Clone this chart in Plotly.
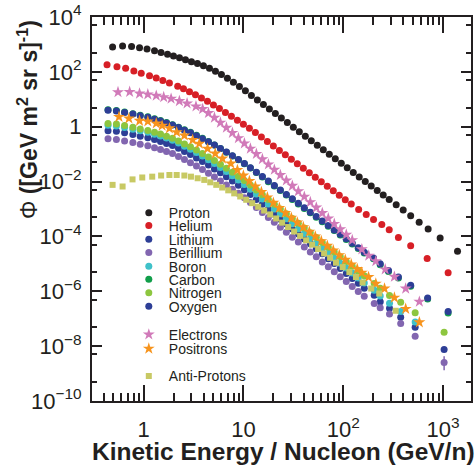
import plotly.graph_objects as go

# ---------------- data ----------------
X_P = [0.490, 0.617, 0.759, 0.912, 1.084, 1.288, 1.496, 1.738, 1.995, 2.291, 2.630, 3.020, 3.467, 3.981,
       4.571, 5.248, 6.026, 6.918, 7.943, 9.120, 10.47, 12.02, 13.80, 15.85, 18.20, 20.89, 23.99, 27.54,
       31.62, 36.31, 41.69, 47.86, 54.95, 63.10, 72.44, 83.18, 95.50, 109.6, 125.9, 144.5, 166.0, 190.5,
       218.8, 251.2, 288.4, 338.8, 398.1, 473.2, 575.4, 707.9, 933.3, 1393]
Y_P = [813, 871, 832, 759, 676, 589, 513, 437, 380, 324, 275, 234, 200, 166, 135, 105, 79.4, 58.9, 41.7,
       29.5, 20.4, 13.8, 9.44, 6.46, 4.42, 3.02, 2.07, 1.41, 0.966, 0.661, 0.452, 0.309, 0.211, 0.145,
       0.0989, 0.0676, 0.0462, 0.0316, 0.0216, 0.0148, 0.0101, 6.92e-3, 4.73e-3, 3.24e-3, 2.21e-3,
       1.42e-3, 9.12e-4, 5.68e-4, 3.31e-4, 1.87e-4, 8.76e-5, 2.91e-5]

X_HE = [0.431, 0.542, 0.662, 0.800, 0.948, 1.148, 1.340, 1.560, 1.816, 2.198, 2.512, 2.884, 3.311, 3.802,
        4.365, 5.012, 5.754, 6.607, 7.586, 8.710, 10.0, 11.48, 13.18, 15.14, 17.38, 19.95, 22.91, 26.30,
        30.20, 34.67, 39.81, 45.71, 52.48, 60.26, 69.18, 79.43, 91.20, 104.7, 120.2, 142.6, 169.8, 200.9,
        243.2, 288.4, 356.5, 473.2, 691.8, 1122]
Y_HE = [180, 155, 135, 107, 89.1, 72.4, 59.6, 48.4, 39.4, 29.9, 24.0, 18.8, 14.6, 11.2, 8.41, 6.24, 4.57,
        3.31, 2.40, 1.72, 1.23, 0.871, 0.610, 0.422, 0.292, 0.200, 0.137, 0.0942, 0.0646, 0.0444, 0.0305,
        0.0209, 0.0144, 9.86e-3, 6.76e-3, 4.65e-3, 3.19e-3, 2.19e-3, 1.51e-3, 9.55e-4, 6.31e-4, 4.17e-4,
        2.75e-4, 1.74e-4, 9.12e-5, 4.57e-5, 1.58e-5, 4.79e-6]

X_NUC = [0.441, 0.535, 0.646, 0.782, 0.927, 1.104, 1.288, 1.479, 1.698, 1.950, 2.239, 2.570, 2.951, 3.388,
         3.890, 4.467, 5.129, 5.888, 6.761, 7.762, 8.913, 10.23, 11.75, 13.49, 15.49, 17.78, 20.42, 23.44,
         26.92, 30.90, 35.48, 40.74, 46.77, 53.70, 61.66, 70.79, 81.28, 93.33, 107.2, 123.0, 141.3, 162.2,
         204.2, 234.4, 290.4, 375.8, 524.8, 1023]
X_CO = [0.441, 0.535, 0.646, 0.782, 0.927, 1.104, 1.288, 1.479, 1.698, 1.950, 2.239, 2.570, 2.951, 3.388,
        3.890, 4.467, 5.129, 5.888, 6.761, 7.762, 8.913, 10.23, 11.75, 13.49, 15.49, 17.78, 20.42, 23.44,
        26.92, 30.90, 35.48, 40.74, 46.77, 53.70, 61.66, 70.79, 81.28, 93.33, 107.2, 123.0, 141.3, 162.2,
        200.9, 234.4, 283.8, 356.5, 473.2, 699.8, 1122]

Y_LI = [0.718, 0.679, 0.597, 0.520, 0.453, 0.399, 0.340, 0.292, 0.246, 0.207, 0.163, 0.125, 0.0966,
        0.0728, 0.0542, 0.0399, 0.0290, 0.0209, 0.0149, 0.0104, 7.35e-3, 5.05e-3, 3.39e-3, 2.24e-3,
        1.48e-3, 9.77e-4, 6.46e-4, 4.27e-4, 2.82e-4, 1.86e-4, 1.23e-4, 8.13e-5, 5.37e-5, 3.55e-5,
        2.34e-5, 1.55e-5, 1.02e-5, 6.76e-6, 4.47e-6, 2.95e-6, 1.95e-6, 1.29e-6,
        7.24e-7, 4.17e-7, 2.40e-7, 1.12e-7, 4.90e-8, 7.59e-9]
Y_BE = [0.363, 0.344, 0.302, 0.263, 0.229, 0.202, 0.172, 0.148, 0.124, 0.105, 0.0825, 0.0633, 0.0489,
        0.0368, 0.0274, 0.0202, 0.0147, 0.0106, 7.54e-3, 5.26e-3, 3.72e-3, 2.56e-3, 1.72e-3, 1.13e-3,
        7.49e-4, 4.94e-4, 3.27e-4, 2.16e-4, 1.43e-4, 9.41e-5, 6.22e-5, 4.11e-5, 2.72e-5, 1.80e-5,
        1.18e-5, 7.84e-6, 5.16e-6, 3.42e-6, 2.26e-6, 1.49e-6, 9.87e-7, 6.53e-7,
        3.55e-7, 2.51e-7, 1.48e-7, 6.76e-8, 2.29e-8, 2.51e-9]
# only the last beryllium point shows a visible error bar
Y_BE_ERR_UP = [0] * 47 + [1.8e-9]
Y_BE_ERR_DOWN = [0] * 47 + [1.2e-9]
Y_B = [1.12, 1.06, 0.933, 0.813, 0.708, 0.624, 0.531, 0.456, 0.384, 0.324, 0.255, 0.195, 0.151, 0.114,
       0.0847, 0.0624, 0.0453, 0.0327, 0.0233, 0.0163, 0.0115, 7.89e-3, 5.30e-3, 3.50e-3, 2.31e-3,
       1.53e-3, 1.01e-3, 6.67e-4, 4.41e-4, 2.91e-4, 1.92e-4, 1.27e-4, 8.39e-5, 5.55e-5, 3.66e-5,
       2.42e-5, 1.59e-5, 1.06e-5, 6.99e-6, 4.61e-6, 3.05e-6, 2.02e-6,
       1.10e-6, 6.76e-7, 3.63e-7, 1.82e-7, 7.59e-8]
Y_C = [4.14, 3.92, 3.44, 3.00, 2.61, 2.30, 1.96, 1.68, 1.41, 1.19, 0.966, 0.775, 0.622, 0.486, 0.376,
       0.287, 0.216, 0.160, 0.118, 0.0858, 0.0625, 0.0445, 0.0310, 0.0212, 0.0146, 9.95e-3, 6.86e-3,
       4.71e-3, 3.24e-3, 2.23e-3, 1.53e-3, 1.05e-3, 7.26e-4, 4.99e-4, 3.44e-4, 2.37e-4, 1.63e-4,
       1.12e-4, 7.7e-5, 5.3e-5, 3.65e-5, 2.51e-5,
       1.52e-5, 9.3e-6, 5.3e-6, 3.05e-6, 1.52e-6, 5.2e-7, 1.62e-7]
Y_N = [1.32, 1.25, 1.10, 0.955, 0.832, 0.733, 0.624, 0.537, 0.452, 0.380, 0.302, 0.236, 0.185, 0.141,
       0.106, 0.0794, 0.0586, 0.0428, 0.0308, 0.0220, 0.0157, 0.0109, 7.43e-3, 4.98e-3, 3.33e-3,
       2.23e-3, 1.50e-3, 1.00e-3, 6.71e-4, 4.50e-4, 3.01e-4, 2.02e-4, 1.35e-4, 9.06e-5, 6.07e-5,
       4.06e-5, 2.72e-5, 1.82e-5, 1.22e-5, 8.18e-6, 5.48e-6, 3.67e-6,
       1.91e-6, 1.29e-6, 7.08e-7, 3.98e-7, 1.66e-7, 3.24e-8]
Y_O = [3.98, 3.77, 3.31, 2.88, 2.51, 2.21, 1.88, 1.62, 1.36, 1.15, 0.933, 0.750, 0.603, 0.473, 0.367,
       0.282, 0.214, 0.160, 0.119, 0.0871, 0.0638, 0.0457, 0.0320, 0.0220, 0.0152, 0.0104, 7.19e-3,
       4.95e-3, 3.41e-3, 2.35e-3, 1.62e-3, 1.11e-3, 7.67e-4, 5.28e-4, 3.64e-4, 2.51e-4, 1.73e-4,
       1.19e-4, 8.18e-5, 5.64e-5, 3.88e-5, 2.67e-5,
       1.62e-5, 1.0e-5, 5.75e-6, 3.31e-6, 1.66e-6, 5.75e-7, 1.82e-7]

X_E = [0.555, 0.726, 0.912, 1.104, 1.340, 1.592, 1.888, 2.286, 2.729, 3.350, 3.908, 4.467, 5.129, 5.888,
       6.761, 7.762, 8.913, 10.23, 11.75, 13.49, 15.49, 17.78, 20.42, 23.44, 26.92, 30.90, 35.48, 40.74,
       46.77, 53.70, 61.66, 70.79, 81.28, 93.33, 107.2, 123.0, 153.5, 179.9, 211.8, 263.0, 325.1, 421.7,
       578.1]
Y_E = [18.2, 18.6, 16.2, 15.1, 13.5, 12.0, 10.5, 8.61, 7.08, 5.50, 4.42, 3.16, 2.14, 1.41, 0.923, 0.596,
       0.385, 0.247, 0.159, 0.102, 0.0656, 0.0422, 0.0271, 0.0174, 0.0110, 7.0e-3, 4.44e-3, 2.81e-3,
       1.78e-3, 1.13e-3, 7.16e-4, 4.54e-4, 2.88e-4, 1.82e-4, 1.16e-4, 7.33e-5, 3.39e-5, 2.0e-5, 1.26e-5,
       6.31e-6, 3.39e-6, 1.26e-6, 4.17e-7]

X_POS = [0.568, 0.714, 0.912, 1.104, 1.340, 1.535, 1.816, 2.148, 2.564, 3.105, 3.614, 4.375, 5.224,
         6.166, 7.482, 8.710, 10.0, 11.48, 13.18, 15.14, 17.38, 19.95, 22.91, 26.30, 30.20, 34.67, 39.81,
         45.71, 52.48, 60.26, 69.18, 79.43, 91.20, 104.7, 120.2, 138.0, 153.5, 179.1, 211.8, 258.8, 325.1,
         421.7, 578.1]
Y_POS = [2.29, 2.0, 1.64, 1.56, 1.32, 1.09, 0.875, 0.631, 0.479, 0.331, 0.240, 0.158, 0.105, 0.0692,
         0.0457, 0.0263, 0.0166, 0.0105, 6.61e-3, 4.17e-3, 2.66e-3, 1.70e-3, 1.10e-3, 7.24e-4, 4.79e-4,
         3.24e-4, 2.19e-4, 1.48e-4, 1.0e-4, 6.76e-5, 4.57e-5, 3.09e-5, 2.09e-5, 1.41e-5, 9.55e-6, 6.46e-6,
         4.79e-6, 3.31e-6, 1.91e-6, 1.26e-6, 5.89e-7, 2.29e-7, 7.41e-8]

X_PBAR = [0.490, 0.617, 0.776, 0.971, 1.222, 1.500, 1.816, 2.148, 2.564, 2.985, 3.483, 4.055, 4.656,
          5.346, 6.138, 7.047, 8.091, 9.290, 10.67, 12.25, 14.06, 16.14, 18.54, 21.28, 24.43, 28.05,
          32.21, 36.98, 42.46, 48.75, 55.98, 64.27, 73.79, 84.53, 98.63, 115.1, 134.0, 156.0, 190.5,
          229.1, 335.0]
Y_PBAR = [7.59e-3, 6.61e-3, 0.0120, 0.0141, 0.0151, 0.0166, 0.0174, 0.0174, 0.0166, 0.0151, 0.0132,
          0.0115, 9.40e-3, 7.60e-3, 6.07e-3, 4.79e-3, 3.72e-3, 2.86e-3, 2.17e-3, 1.63e-3, 1.21e-3,
          8.79e-4, 6.34e-4, 4.52e-4, 3.18e-4, 2.20e-4, 1.51e-4, 1.05e-4, 7.24e-5, 5.01e-5, 3.47e-5,
          2.40e-5, 1.66e-5, 1.10e-5, 7.59e-6, 5.01e-6, 3.31e-6, 2.09e-6, 1.26e-6, 8.32e-7, 1.95e-7]

NAMES = ["Proton", "Helium", "Lithium", "Berillium", "Boron", "Carbon", "Nitrogen", "Oxygen",
         "Electrons", "Positrons", "Anti-Protons"]
X_TICKS = [1, 10, 100, 1000]
X_TICKTEXT = ["1", "10", "10<sup>2</sup>", "10<sup>3</sup>"]
Y_TICKS = [1e-10, 1e-8, 1e-6, 1e-4, 1e-2, 1, 100, 1e4]
Y_TICKTEXT = ["10<sup>\u221210</sup>", "10<sup>\u22128</sup>", "10<sup>\u22126</sup>",
              "10<sup>\u22124</sup>", "10<sup>\u22122</sup>", "1", "10<sup>2</sup>", "10<sup>4</sup>"]
Y_ODD_DECADES = [1e-9, 1e-7, 1e-5, 1e-3, 1e-1, 10, 1000]
X_MINOR = [0.4, 0.5, 0.6, 0.7, 0.8, 0.9, 2, 3, 4, 5, 6, 7, 8, 9, 20, 30, 40, 50, 60, 70, 80, 90,
           200, 300, 400, 500, 600, 700, 800, 900]
Y_MINOR = [5e-10, 5e-9, 5e-8, 5e-7, 5e-6, 5e-5, 5e-4, 5e-3, 5e-2, 0.5, 5, 50, 500, 5000]

# ---------------- styling ----------------
INK = "#231f20"
FONT = "Liberation Sans, Arial, Helvetica, sans-serif"
W, H = 474, 470
ML, MR, MT, MB = 92, 1, 12, 69
Y_RANGE = [-10, 4]

STYLE = [
    ("#231f20", "circle", 7),
    ("#d71f26", "circle", 7),
    ("#2d3e96", "circle", 7),
    ("#8266b0", "circle", 7),
    ("#3fc1c9", "circle", 7),
    ("#119e4a", "circle", 7),
    ("#8dc63f", "circle", 7),
    ("#2d3e96", "circle", 7),
    ("#d17ab9", "star", 9),
    ("#f7941d", "star", 9),
    ("#c8c964", "square", 6),
]
DATA = [(X_P, Y_P), (X_HE, Y_HE), (X_NUC, Y_LI), (X_NUC, Y_BE), (X_NUC, Y_B), (X_CO, Y_C),
        (X_NUC, Y_N), (X_CO, Y_O), (X_E, Y_E), (X_POS, Y_POS), (X_PBAR, Y_PBAR)]

LEG_ROW_PX = [210.7, 223.5, 237.5, 251, 265, 278, 291.7, 305.5, 334, 348.3, 376]
LEG_LEFT_PX = 129


def px_x(px):
    return (px - ML) / (W - ML - MR)


def px_y(py):
    return (H - MB - py) / (H - MT - MB)


fig = go.Figure()
legends = {}
for i, (name, (xs, ys), (col, sym, size)) in enumerate(zip(NAMES, DATA, STYLE)):
    leg = "legend" if i == 0 else f"legend{i + 1}"
    extra = {}
    if name == "Berillium":
        extra["error_y"] = dict(type="data", symmetric=False, array=Y_BE_ERR_UP,
                                arrayminus=Y_BE_ERR_DOWN, color=col, thickness=1.5, width=0)
    fig.add_trace(go.Scatter(
        x=xs[:len(ys)], y=ys, mode="markers", name=name, legend=leg,
        marker=dict(color=col, symbol=sym, size=size, line=dict(width=0)),
        hoverinfo="x+y+name", **extra))
    legends[leg] = dict(x=px_x(LEG_LEFT_PX), y=px_y(LEG_ROW_PX[i]), xanchor="left", yanchor="middle",
                        bgcolor="rgba(0,0,0,0)", borderwidth=0,
                        font=dict(family=FONT, size=14, color=INK))

axis_common = dict(showline=True, linewidth=2, linecolor=INK, mirror="ticks", ticks="inside",
                   tickcolor=INK, tickwidth=1.5, showgrid=False, zeroline=False,
                   tickfont=dict(family=FONT, size=22, color=INK), tickmode="array",
                   ticklabeloverflow="allow")

fig.update_layout(
    width=W, height=H,
    margin=dict(l=ML, r=MR, t=MT, b=MB, pad=0),
    paper_bgcolor="white", plot_bgcolor="white",
    font=dict(family=FONT, color=INK),
    showlegend=True,
    xaxis=dict(type="log", range=[-0.516, 3.279], tickvals=X_TICKS, ticktext=X_TICKTEXT, ticklen=16,
               ticklabelstandoff=8,
               minor=dict(tickmode="array", tickvals=X_MINOR, ticks="inside", ticklen=8, tickwidth=1.5,
                          tickcolor=INK, showgrid=False),
               **axis_common),
    yaxis=dict(type="log", range=Y_RANGE, tickvals=Y_TICKS, ticktext=Y_TICKTEXT, ticklen=10,
               ticklabelstandoff=4,
               minor=dict(tickmode="array", tickvals=Y_MINOR, ticks="inside", ticklen=5, tickwidth=1.5,
                          tickcolor=INK, showgrid=False),
               **axis_common),
    # unlabeled long ticks at the odd decades
    yaxis2=dict(type="log", range=Y_RANGE, overlaying="y", side="left", anchor="x",
                tickmode="array", tickvals=Y_ODD_DECADES, ticks="inside", ticklen=10, tickwidth=1.5,
                tickcolor=INK, mirror="ticks", showline=False, showticklabels=False,
                showgrid=False, zeroline=False),
    annotations=[
        dict(text="<b>Kinetic Energy / Nucleon (GeV/n)</b>", xref="paper", yref="paper",
             x=px_x(285), y=px_y(452), xanchor="center", yanchor="middle", showarrow=False,
             font=dict(family=FONT, size=24.5, color=INK)),
        dict(text="\u03a6 <b>([GeV m<sup>2</sup> sr s]<sup>-1</sup>)</b>", xref="paper", yref="paper",
             x=px_x(27), y=px_y(116), xanchor="center", yanchor="middle", showarrow=False, textangle=-90,
             font=dict(family=FONT, size=23, color=INK)),
    ],
    **legends,
)

fig.write_html("out.html", config={"displayModeBar": False},
               post_script="document.body.style.margin='0';document.body.style.padding='0';")
